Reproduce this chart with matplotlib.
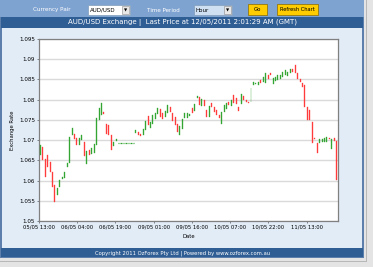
import matplotlib
matplotlib.use("Agg")
import matplotlib.pyplot as plt
from matplotlib.patches import Rectangle
import numpy as np

# ---------------- data (hourly AUD/USD candles) ----------------
opens = [1.0663, 1.0684, 1.0653, 1.0663, 1.0647, 1.0622, 1.0589, 1.0564, 1.0584, 1.0605,
         1.0606, 1.0633, 1.0643, 1.0712, 1.0714, 1.0705, 1.0688, 1.0700, 1.0696, 1.0640,
         1.0675, 1.0665, 1.0668, 1.0688, 1.0750, 1.0762, 1.0770, 1.0740, 1.0738, 1.0712,
         1.0685, 1.0697,
         1.0692, 1.0692, 1.0692, 1.0692, 1.0692, 1.0692, 1.0692,
         1.0717, 1.0719, 1.0716, 1.0712, 1.0725, 1.0760, 1.0730, 1.0741, 1.0752, 1.0764,
         1.0778, 1.0768, 1.0758, 1.0767, 1.0783, 1.0767, 1.0758, 1.0741, 1.0712, 1.0728,
         1.0755, 1.0754, 1.0760, 1.0779, 1.0772, 1.0803, 1.0807, 1.0785, 1.0800, 1.0774,
         1.0758, 1.0791, 1.0782, 1.0774, 1.0762, 1.0741, 1.0770, 1.0778, 1.0795, 1.0785,
         1.0811, 1.0805, 1.0783, 1.0790, 1.0808, 1.0798, 1.0795, 1.0795, 1.0836, 1.0838,
         1.0836, 1.0848, 1.0844, 1.0840, 1.0861, 1.0866, 1.0838, 1.0845, 1.0849, 1.0852,
         1.0856, 1.0860, 1.0858, 1.0865, 1.0875, 1.0885, 1.0865, 1.0852, 1.0840, 1.0836,
         1.0782, 1.0775, 1.0745, 1.0705, 1.0693, 1.0692, 1.0695, 1.0695, 1.0696, 1.0704,
         1.0677, 1.0704, 1.0697]
closes = [1.0688, 1.0650, 1.0610, 1.0634, 1.0622, 1.0585, 1.0546, 1.0582, 1.0601, 1.0610,
          1.0622, 1.0643, 1.0708, 1.0730, 1.0703, 1.0688, 1.0705, 1.0712, 1.0660, 1.0672,
          1.0663, 1.0680, 1.0690, 1.0754, 1.0779, 1.0791, 1.0765, 1.0715, 1.0713, 1.0676,
          1.0695, 1.0703,
          1.0692, 1.0692, 1.0692, 1.0692, 1.0692, 1.0692, 1.0692,
          1.0725, 1.0713, 1.0709, 1.0727, 1.0748, 1.0737, 1.0745, 1.0762, 1.0768, 1.0780,
          1.0756, 1.0752, 1.0772, 1.0787, 1.0770, 1.0748, 1.0738, 1.0721, 1.0734, 1.0752,
          1.0767, 1.0766, 1.0765, 1.0767, 1.0789, 1.0810, 1.0787, 1.0801, 1.0785, 1.0758,
          1.0785, 1.0782, 1.0770, 1.0762, 1.0754, 1.0770, 1.0787, 1.0792, 1.0787, 1.0798,
          1.0791, 1.0790, 1.0771, 1.0813, 1.0800, 1.0795, 1.0792, 1.0828, 1.0844, 1.0841,
          1.0844, 1.0840, 1.0857, 1.0865, 1.0850, 1.0860, 1.0853, 1.0856, 1.0860, 1.0862,
          1.0869, 1.0873, 1.0869, 1.0877, 1.0868, 1.0865, 1.0852, 1.0844, 1.0832, 1.0782,
          1.0750, 1.0750, 1.0692, 1.0703, 1.0667, 1.0702, 1.0702, 1.0704, 1.0708, 1.0702,
          1.0702, 1.0697, 1.0601]

tick_labels = ["05/05 13:00", "06/05 04:00", "06/05 19:00", "09/05 01:00",
               "09/05 16:00", "10/05 07:00", "10/05 22:00", "11/05 13:00"]
tick_pos = [-0.5, 15.1, 30.7, 46.3, 61.9, 77.5, 93.1, 108.7]
y_ticks = [1.05, 1.055, 1.06, 1.065, 1.07, 1.075, 1.08, 1.085, 1.09, 1.095]
y_tick_labels = ["1.05", "1.055", "1.06", "1.065", "1.07", "1.075", "1.08", "1.085", "1.09", "1.095"]

title_text = "AUD/USD Exchange |  Last Price at 12/05/2011 2:01:29 AM (GMT)"
footer_text = "Copyright 2011 OzForex Pty Ltd | Powered by www.ozforex.com.au"

# ---------------- figure / page chrome ----------------
W, H = 373, 267
fig = plt.figure(figsize=(W / 100, H / 100), dpi=100)
fig.patch.set_facecolor("#e4e4e4")
FONT = "DejaVu Sans"


def rect(x0, y0, x1, y1, fc, ec="none", lw=0.0, z=0):
    fig.patches.append(Rectangle((x0 / W, 1 - y1 / H), (x1 - x0) / W, (y1 - y0) / H,
                                 transform=fig.transFigure, facecolor=fc, edgecolor=ec,
                                 linewidth=lw, zorder=z))


def text(x, y, s, **kw):
    kw.setdefault("family", FONT)
    fig.text(x / W, 1 - y / H, s, **kw)


# outer frame and panels
rect(0, 0, 364, 258, "#5d7fab", z=0)
rect(0, 0, 364, 17, "#7fa3d1", z=1)          # control bar
rect(1, 17, 363, 28, "#2f5e95", z=1)         # title bar
rect(2, 28, 362, 248, "#e2ecf7", z=1)        # light panel
rect(1, 248, 363, 257, "#2f5e95", z=1)       # footer bar
rect(366, 0, 367, 262, "#b8b8b8", z=1)       # shadow line right
rect(0, 261, 367, 262, "#b8b8b8", z=1)       # shadow line bottom

# controls
text(52, 10, "Currency Pair", color="white", fontsize=4.1, ha="center", va="center")
rect(88, 5, 130, 15, "white", ec="#7f9db9", lw=0.5, z=2)
text(90, 10, "AUD/USD", color="black", fontsize=4.0, ha="left", va="center")
rect(122, 6, 129, 14, "#e8e8e8", ec="#8a8a8a", lw=0.4, z=3)
text(125.5, 10.3, "\u25bc", color="black", fontsize=3, ha="center", va="center")
text(163, 10, "Time Period", color="white", fontsize=4.1, ha="center", va="center")
rect(194, 5, 232, 15, "#cfe0f3", ec="#7f9db9", lw=0.5, z=2)
text(196, 10, "Hour", color="black", fontsize=4.0, ha="left", va="center")
rect(224, 6, 231, 14, "#e8e8e8", ec="#8a8a8a", lw=0.4, z=3)
text(227.5, 10.3, "\u25bc", color="black", fontsize=3, ha="center", va="center")
rect(248, 4, 267, 15, "#ffcc00", ec="#8a6a00", lw=0.5, z=2)
text(257.5, 9.8, "Go", color="black", fontsize=3.9, ha="center", va="center")
rect(277, 4, 318, 15, "#ffcc00", ec="#8a6a00", lw=0.5, z=2)
text(297.5, 9.8, "Refresh Chart", color="black", fontsize=3.7, ha="center", va="center")

text(183, 22.7, title_text, color="white", fontsize=5.0, ha="center", va="center")
text(183, 253, footer_text, color="white", fontsize=3.8, ha="center", va="center")

# ---------------- chart axes ----------------
ax = fig.add_axes([39 / W, (H - 221) / H, 299 / W, 182 / H])
ax.set_zorder(10)
ax.set_facecolor("white")

o = np.array(opens)
c = np.array(closes)
x = np.arange(len(o))
up = c > o
down = c < o
flat = c == o

green = "#33a533"
red = "#ff3b3b"
ax.bar(x[up], (c - o)[up], bottom=o[up], width=0.4, color=green, edgecolor=green,
       linewidth=0.25, zorder=3)
ax.bar(x[down], (c - o)[down], bottom=o[down], width=0.4, color=red, edgecolor=red,
       linewidth=0.25, zorder=3)
ax.hlines(o[flat], x[flat] - 0.25, x[flat] + 0.25, color=green, linewidth=0.9, zorder=3)

ax.set_xlim(-0.5, len(o) - 0.5)
ax.set_ylim(1.05, 1.095)
ax.set_yticks(y_ticks)
ax.set_yticklabels(y_tick_labels)
ax.set_xticks(tick_pos)
ax.set_xticklabels(tick_labels)
ax.yaxis.grid(True, color="#dadada", linewidth=1.0, zorder=0)
ax.set_axisbelow(True)
ax.tick_params(axis="both", length=1.6, width=0.5, pad=1.2,
               colors="#555555", labelcolor="black")
ax.tick_params(axis="x", labelsize=3.8)
ax.tick_params(axis="y", labelsize=4.1)
for lab in ax.get_xticklabels() + ax.get_yticklabels():
    lab.set_family(FONT)
for s in ax.spines.values():
    s.set_color("#808080")
    s.set_linewidth(0.9)

ax.set_ylabel("Exchange Rate", fontsize=3.8, family=FONT, labelpad=3)
ax.set_xlabel("Date", fontsize=3.8, family=FONT, labelpad=3)

fig.savefig("out.png", dpi=100)
